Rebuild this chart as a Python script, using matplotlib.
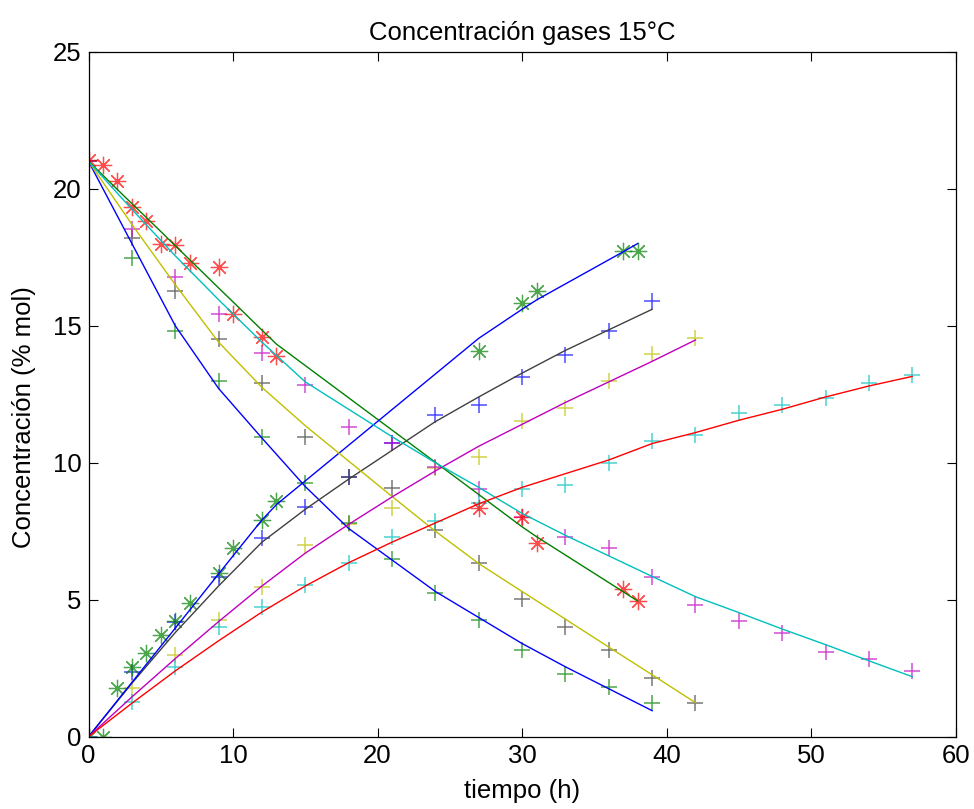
import matplotlib
matplotlib.use("Agg")
import matplotlib.pyplot as plt

plt.rcParams['font.family'] = ['Liberation Sans', 'DejaVu Sans']

# ---------------- data ----------------
# Experiment A (0-39 h)
tA = [0, 3, 6, 9, 12, 15, 18, 21, 24, 27, 30, 33, 36, 39]
o2A = [21.0, 17.46, 14.82, 12.98, 10.95, 9.25, 7.81, 6.47, 5.23, 4.26, 3.16, 2.28, 1.83, 1.24]
o2A_fit = [21.0, 18.0, 15.0, 12.71, 10.9, 9.13, 7.6, 6.45, 5.3, 4.35, 3.4, 2.55, 1.75, 0.95]
co2A = [0, 2.37, 4.2, 5.84, 7.24, 8.39, 9.49, 10.71, 11.74, 12.1, 13.14, 13.93, 14.8, 15.9]
co2A_fit = [0, 1.95, 3.8, 5.5, 7.1, 8.3, 9.4, 10.45, 11.5, 12.4, 13.27, 14.1, 14.85, 15.6]

# Experiment B (0-38 h)
tB = [0, 1, 2, 3, 4, 5, 6, 7, 9, 10, 12, 13, 27, 30, 31, 37, 38]
o2B = [21.05, 20.86, 20.28, 19.34, 18.82, 18.0, 17.94, 17.28, 17.15, 15.43, 14.6, 13.9,
       8.34, 8.02, 7.08, 5.38, 4.95]
o2B_fit = [21.0, 20.49, 19.97, 19.46, 18.95, 18.44, 17.92, 17.41, 16.38, 15.87, 14.84, 14.33,
           8.84, 7.66, 7.3, 5.29, 4.95]
co2B = [0, 0, 1.77, 2.55, 3.07, 3.71, 4.22, 4.89, 5.99, 6.88, 7.9, 8.6,
        14.08, 15.82, 16.27, 17.73, 17.73]
co2B_fit = [0, 0.66, 1.32, 1.98, 2.64, 3.3, 3.96, 4.62, 5.94, 6.6, 7.91, 8.47,
            14.54, 15.6, 15.94, 17.7, 18.0]

# Experiment C (0-42 h)
tC = [0, 3, 6, 9, 12, 15, 18, 21, 24, 27, 30, 33, 36, 39, 42]
o2C = [21.0, 18.19, 16.27, 14.5, 12.92, 10.95, 9.49, 9.07, 7.54, 6.33, 5.01, 4.01, 3.16, 2.13, 1.24]
o2C_fit = [21.0, 18.7, 16.5, 14.4, 12.75, 11.35, 10.06, 8.77, 7.5, 6.32, 5.3, 4.29, 3.27, 2.26, 1.24]
co2C = [0, 1.77, 2.98, 4.26, 5.47, 7.0, 7.75, 8.34, 9.8, 10.2, 11.54, 12.01, 12.98, 13.96, 14.54]
co2C_fit = [0, 1.45, 2.85, 4.2, 5.5, 6.7, 7.75, 8.75, 9.7, 10.6, 11.4, 12.2, 12.95, 13.7, 14.48]

# Experiment D (0-57 h)
tD = [0, 3, 6, 9, 12, 15, 18, 21, 24, 27, 30, 33, 36, 39, 42, 45, 48, 51, 54, 57]
o2D = [21.0, 18.52, 16.79, 15.42, 13.99, 12.84, 11.31, 10.71, 9.85, 9.05, 8.03, 7.3, 6.88,
       5.84, 4.81, 4.22, 3.77, 3.1, 2.82, 2.4]
o2D_fit = [21.0, 19.25, 17.55, 15.95, 14.4, 12.95, 11.95, 10.95, 10.0, 9.1, 8.15, 7.35, 6.6,
           5.85, 5.11, 4.53, 3.93, 3.36, 2.77, 2.19]
co2D = [0, 1.28, 2.55, 4.01, 4.74, 5.54, 6.33, 7.3, 7.87, 8.52, 9.04, 9.19, 10.0, 10.79,
        11.01, 11.8, 12.1, 12.36, 12.9, 13.2]
co2D_fit = [0, 1.22, 2.4, 3.5, 4.55, 5.5, 6.35, 7.1, 7.8, 8.5, 9.1, 9.6, 10.1, 10.7,
            11.1, 11.55, 11.95, 12.4, 12.8, 13.15]

title = "Concentración gases 15°C"
xlabel = "tiempo (h)"
ylabel = "Concentración (% mol)"

# MATLAB classic colours
C_B = (0, 0, 1)
C_G = (0, 0.5, 0)
C_R = (1, 0, 0)
C_C = (0, 0.75, 0.75)
C_M = (0.75, 0, 0.75)
C_Y = (0.75, 0.75, 0)
C_K = (0.25, 0.25, 0.25)

fig = plt.figure(figsize=(9.74, 8.09), dpi=100)
ax = fig.add_axes([0.0909, 0.0894, 0.8902, 0.8466])

LW = 1.0
MS = 11.5
MEW = 1.1
STAR = (8, 2, 0)
MA = 0.7
FS = 18.5

def pts(t, v, color, marker, ms=MS, mew=MEW):
    ax.plot(t, v, linestyle='none', marker=marker, ms=ms, mew=mew,
            color=color, alpha=MA)

def fit(t, v, color):
    ax.plot(t, v, '-', color=color, lw=LW)

# markers
pts(tC, co2C, C_Y, '+')
pts(tA, o2A, C_G, '+')
pts(tA, co2A, C_B, '+')
pts(tB, co2B, C_G, STAR, ms=12.5, mew=0.9)
pts(tC, o2C, C_K, '+')
pts(tD, o2D, C_M, '+')
pts(tD, co2D, C_C, '+')
pts(tB, o2B, C_R, STAR, ms=12.5, mew=0.9)

# fitted lines
fit(tA, o2A_fit, C_B)
fit(tA, co2A_fit, C_K)
fit(tB, o2B_fit, C_G)
fit(tB, co2B_fit, C_B)
fit(tC, o2C_fit, C_Y)
fit(tC, co2C_fit, C_M)
fit(tD, o2D_fit, C_C)
fit(tD, co2D_fit, C_R)

ax.set_xlim(0, 60)
ax.set_ylim(0, 25)
ax.set_xticks(range(0, 61, 10))
ax.set_yticks(range(0, 26, 5))
ax.tick_params(direction='in', length=6.5, width=0.8, top=True, right=True,
               labelsize=FS, pad=5, colors='black')
for s in ax.spines.values():
    s.set_linewidth(0.9)
    s.set_color('black')

ax.set_title(title, fontsize=FS, pad=8.5)
ax.set_xlabel(xlabel, fontsize=FS, labelpad=8)
ax.set_ylabel(ylabel, fontsize=FS)
ax.yaxis.set_label_coords(-0.061, 0.467)

fig.savefig("out.png", dpi=100)
